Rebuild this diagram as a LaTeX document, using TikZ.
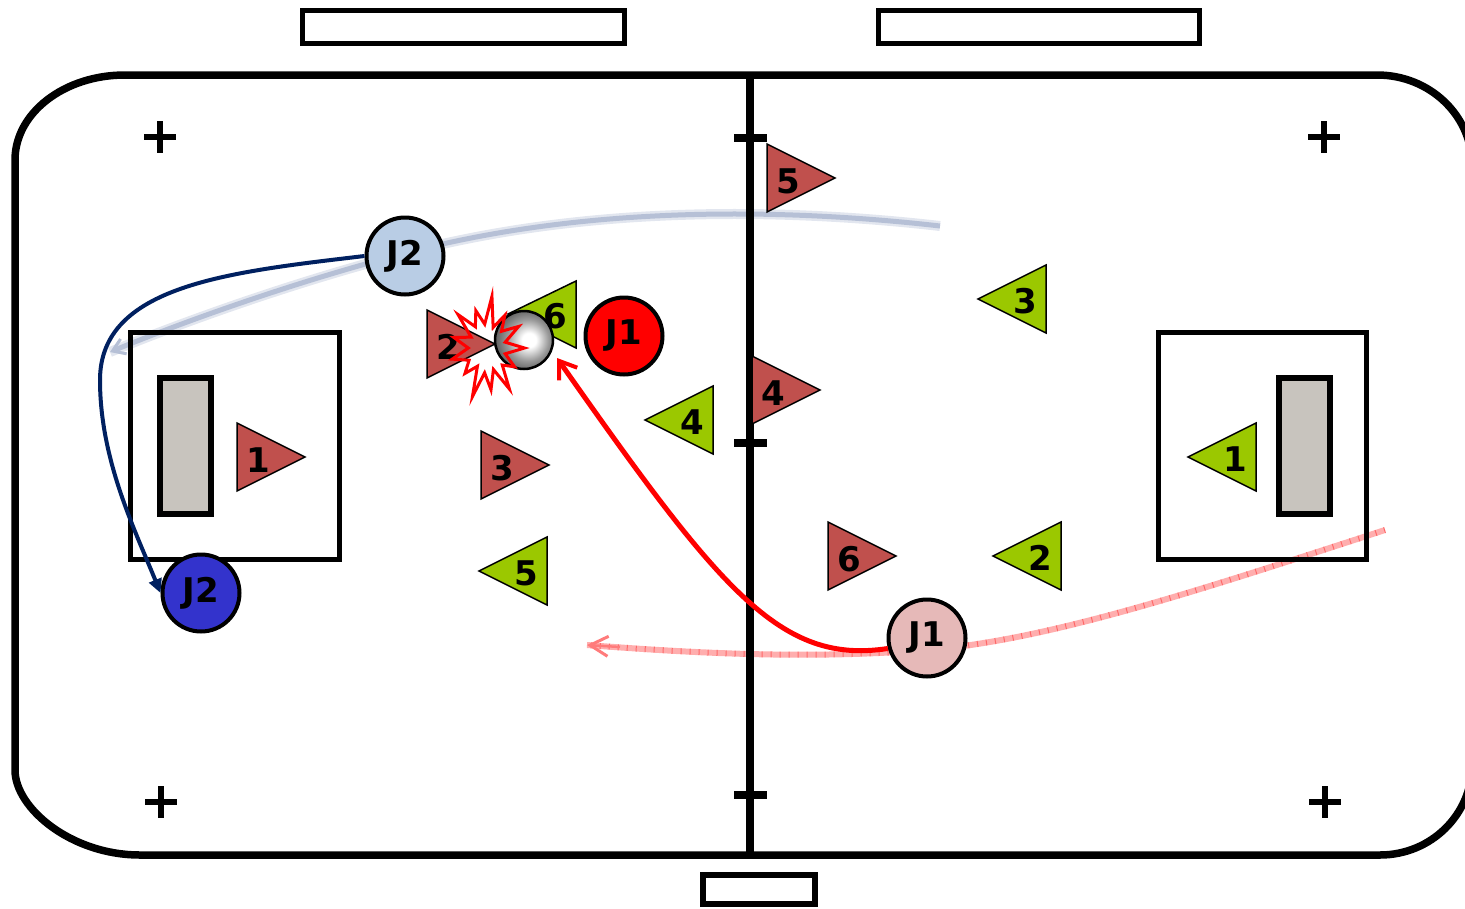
\documentclass[tikz,border=0pt]{standalone}
\usepackage{fontspec}
\setmainfont{DejaVu Sans}
\usetikzlibrary{arrows.meta}
\definecolor{tred}{HTML}{C0504D}
\definecolor{tgreen}{HTML}{9BC800}
\definecolor{goalgray}{HTML}{C8C4BE}
\definecolor{ltblue}{HTML}{B9CDE5}
\definecolor{dkblue}{HTML}{3333CC}
\definecolor{pinkp}{HTML}{E6B9B8}
\definecolor{navy}{HTML}{002060}
\definecolor{pathblue}{HTML}{B6C0D6}
\definecolor{hatchpink}{HTML}{FF9A9A}
\pgfdeclareradialshading{ballshade}{\pgfpoint{5bp}{0bp}}{color(0bp)=(white); color(6bp)=(white); color(18bp)=(black!40); color(30bp)=(black!70); color(42bp)=(black!85); color(50bp)=(black!90)}
\begin{document}
\begin{tikzpicture}[x=1pt,y=-1pt,
  rinkline/.style={line width=7.5pt},
  boxline/.style={line width=5pt},
  player/.style={circle, draw=black, line width=4pt, minimum size=77pt, inner sep=0pt, font=\bfseries\fontsize{34}{34}\selectfont},
  lab/.style={font=\bfseries\fontsize{34}{34}\selectfont, inner sep=0pt},
  tri/.style={draw=black, line width=1.5pt, line join=miter},
  crossmark/.style={line width=6pt}]
\useasboundingbox (0,0) rectangle (1465,908);

% ---- paths (under the lines) ----
\coordinate (lbS) at (940,226);
\coordinate (lbM) at (447,243);
\coordinate (lbE) at (110,352);
\draw[pathblue!40, line width=10pt] (lbS) .. controls (800,210) and (620,205) .. (lbM) .. controls (330,270) and (200,315) .. (lbE);
\draw[pathblue, line width=5pt, -{Straight Barb[length=12pt,width=16pt,line width=3pt]}] (lbS) .. controls (800,210) and (620,205) .. (lbM) .. controls (330,270) and (200,315) .. (lbE);

\coordinate (pkS) at (1385,530);
\coordinate (pkM) at (927,650);
\coordinate (pkE) at (587,645);
\draw[hatchpink, opacity=0.8, line width=6pt] (pkS) .. controls (1200,590) and (1050,640) .. (pkM) .. controls (800,660) and (680,652) .. (pkE);
\draw[red!70, opacity=0.7, line width=6pt, dash pattern=on 1pt off 8pt] (pkS) .. controls (1200,590) and (1050,640) .. (pkM) .. controls (800,660) and (680,652) .. (pkE);
\draw[hatchpink!80!red, line width=2.5pt, -{Straight Barb[length=18pt,width=20pt,line width=3pt]}] (620,647) -- (pkE);

% ---- rink ----
\draw[rinkline] (125,75) -- (1377,75) .. controls (1429.5,75) and (1472,115.3) .. (1472,165) -- (1472,765) .. controls (1472,814.7) and (1430.8,855) .. (1380,855) -- (140,855) .. controls (71,855) and (15,808) .. (15,770) -- (15,160) .. controls (15,113) and (64,75) .. (125,75) -- cycle;
\draw[rinkline] (750,75) -- (750,855);
\foreach \y in {138,443,795} \draw[rinkline] (734,\y) -- (767,\y);
\foreach \x/\y in {160/137,1324/137,161/802,1325/802} {
  \draw[crossmark] (\x-16,\y) -- (\x+16,\y);
  \draw[crossmark] (\x,\y-16) -- (\x,\y+16);
}
\draw[boxline] (302,10) rectangle (624,43);
\draw[boxline] (878,10) rectangle (1199,43);
\draw[line width=6pt] (703,875) rectangle (815,904);
\draw[boxline] (130,332) rectangle (339,559);
\draw[boxline] (1158,332) rectangle (1366,559);
\draw[line width=6pt, fill=goalgray] (160,378) rectangle (211,514);
\draw[line width=6pt, fill=goalgray] (1279,378) rectangle (1330,514);

% ---- triangles ----
\foreach \n/\L/\C in {1/237/457, 2/427/344, 3/481/465, 4/752/390, 5/767/178, 6/828/556}{
  \filldraw[tri, fill=tred] (\L,{\C-34}) -- ({\L+68},\C) -- (\L,{\C+34}) -- cycle;
  \node[lab] (r\n) at ({\L+21},{\C+3}) {\n};
}
\foreach \n/\R/\C in {1/1256/457, 2/1061/556, 3/1046/299, 4/713/420, 5/547/571}{
  \filldraw[tri, fill=tgreen] (\R,{\C-34}) -- ({\R-68},\C) -- (\R,{\C+34}) -- cycle;
  \node[lab] (g\n) at ({\R-21},{\C+2}) {\n};
}
\filldraw[tri, fill=tgreen] (576,281) -- (508,314) -- (576,348) -- cycle;

% ---- players ----
\node[player, fill=ltblue] (J2a) at (405,256) {J2};
\node[player, fill=red] (J1a) at (624,336) {J1};
\node[player, fill=dkblue] (J2b) at (201,593) {J2};
\node[player, fill=pinkp] (J1b) at (927,638) {J1};

% ---- connectors ----
\draw[navy, line width=4pt, -{Triangle[length=14pt,width=13pt]}] (J2a.west) .. controls (230,272) and (100,285) .. (100,380) .. controls (100,460) and (135,530) .. (J2b.west);
\coordinate (redE) at (557,358);
\draw[red, line width=5pt, -{Straight Barb[length=16pt,width=22pt,line width=4pt]}] (J1b.195) .. controls (780,665) and (720,590) .. (redE);

% ---- ball and burst ----
\node[circle, draw=black, line width=2.5pt, minimum size=58pt, inner sep=0pt, shading=ballshade] (ball) at (524,340) {};
\begin{scope}[shift={(487,348)}, xscale=0.78]
\draw[red, line width=3pt, line join=miter, miter limit=20] (0:48)
  \foreach \a/\r in {14/24, 28/40, 41/26, 55/50, 69/23, 83/42, 97/25, 111/52, 124/22, 138/38, 152/26, 166/46, 180/24, 194/44, 208/23, 222/50, 235/26, 249/40, 263/24, 277/52, 291/22, 305/40, 318/25, 332/46, 346/24} { -- (\a:\r) } -- cycle;
\end{scope}
\node[lab] (g6) at (555,316) {6};
\end{tikzpicture}
\end{document}
